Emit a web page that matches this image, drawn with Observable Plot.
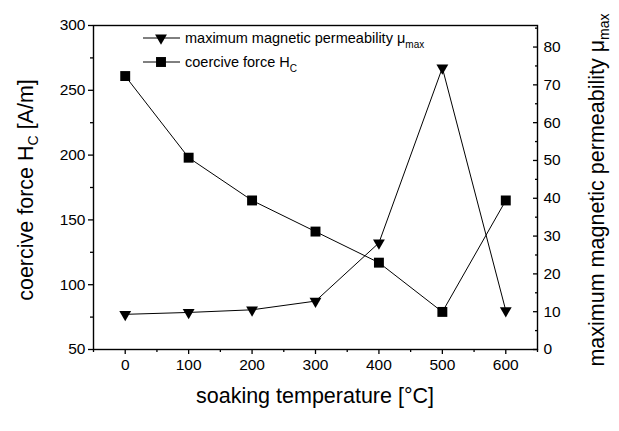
<!DOCTYPE html>
<html><head><meta charset="utf-8">
<script src="https://cdn.jsdelivr.net/npm/d3@7"></script>
<script src="https://cdn.jsdelivr.net/npm/@observablehq/plot@0.6"></script>
<style>body{margin:0;background:#fff} svg{font-family:"Liberation Sans",Arial,sans-serif}</style>
</head><body><div id="chart"></div>
<script>
// Data
const temperature = [0, 100, 200, 300, 400, 500, 600];          // soaking temperature [°C]
const coerciveForce = [261, 198, 165, 141, 117, 79, 165];       // H_C [A/m] (left axis)
const permeability = [9.3, 9.8, 10.5, 12.8, 28.2, 74.5, 10.3];  // μ_max (right axis)

const xTicks = [0, 100, 200, 300, 400, 500, 600];
const xMinor = [-50, 50, 150, 250, 350, 450, 550, 650];
const leftTicks = [50, 100, 150, 200, 250, 300];
const leftMinor = [75, 125, 175, 225, 275];
const rightTicks = [0, 10, 20, 30, 40, 50, 60, 70, 80];
const rightMinor = [5, 15, 25, 35, 45, 55, 65, 75, 85];

const leftDomain = [50, 300];
const rightDomain = [0, 85.7];
// map right-axis values into left-axis units (shared y scale)
const toLeft = m => leftDomain[0] + (m - rightDomain[0]) * (leftDomain[1] - leftDomain[0]) / (rightDomain[1] - rightDomain[0]);
const fromLeft = v => rightDomain[0] + (v - leftDomain[0]) * (rightDomain[1] - rightDomain[0]) / (leftDomain[1] - leftDomain[0]);

const hcData = temperature.map((t, i) => ({t, v: coerciveForce[i]}));
const muData = temperature.map((t, i) => ({t, v: toLeft(permeability[i])}));

const plot = Plot.plot({
  width: 619, height: 431,
  marginLeft: 93, marginRight: 82, marginTop: 25, marginBottom: 82,
  style: {fontFamily: "Liberation Sans, Arial, sans-serif", fontSize: "15.5px", color: "black", background: "white"},
  x: {domain: [-50, 650]},
  y: {domain: leftDomain},
  marks: [
    Plot.frame({stroke: "black", strokeWidth: 1.4}),
    Plot.axisX(xTicks, {tickSize: 5, tickPadding: 4, label: null, strokeWidth: 1.3}),
    Plot.axisX(xMinor, {tickSize: 3, fill: "none", label: null, strokeWidth: 1.3}),
    Plot.axisY(leftTicks, {tickSize: 5, tickPadding: 3, label: null, strokeWidth: 1.3}),
    Plot.axisY(leftMinor, {tickSize: 3, fill: "none", label: null, strokeWidth: 1.3}),
    Plot.axisY(rightTicks.map(toLeft), {anchor: "right", tickSize: 5, dx: -5, fill: "none", label: null, strokeWidth: 1.3}),
    Plot.axisY(rightMinor.map(toLeft), {anchor: "right", tickSize: 3, dx: -3, fill: "none", label: null, strokeWidth: 1.3}),
    Plot.axisY(rightTicks.map(toLeft), {anchor: "right", tickSize: 0, tickPadding: 6, label: null,
      tickFormat: v => String(Math.round(fromLeft(v)))}),
    Plot.line(hcData, {x: "t", y: "v", stroke: "black", strokeWidth: 1}),
    Plot.line(muData, {x: "t", y: "v", stroke: "black", strokeWidth: 1}),
    Plot.dot(hcData, {x: "t", y: "v", symbol: "square", r: 5.6, fill: "black", stroke: "none"}),
    Plot.dot(muData, {x: "t", y: "v", symbol: "triangle", rotate: 180, r: 4.4, fill: "black", stroke: "none"})
  ]
});
document.getElementById("chart").appendChild(plot);

const svg = d3.select(plot);
const font = "Liberation Sans, Arial, sans-serif";
// Axis titles
const lt = svg.append("text").attr("transform", "translate(33,190) rotate(-90)")
  .attr("text-anchor", "middle").attr("font-size", 21.5).attr("font-family", font).attr("fill", "black");
lt.append("tspan").text("coercive force H");
lt.append("tspan").attr("font-size", 14).attr("dy", 5).text("C");
lt.append("tspan").attr("dy", -5).text(" [A/m]");

const rt = svg.append("text").attr("transform", "translate(604,190) rotate(-90)")
  .attr("text-anchor", "middle").attr("font-size", 21.5).attr("font-family", font).attr("fill", "black");
rt.append("tspan").text("maximum magnetic permeability μ");
rt.append("tspan").attr("font-size", 14).attr("dy", 5).text("max");

svg.append("text").attr("x", 315).attr("y", 403).attr("text-anchor", "middle")
  .attr("font-size", 21.5).attr("font-family", font).attr("fill", "black").text("soaking temperature [°C]");

// Legend
const legend = [
  {label: "maximum magnetic permeability μ", sub: "max", symbol: d3.symbolTriangle, rot: 180, size: Math.PI * 4.4 * 4.4},
  {label: "coercive force H", sub: "C", symbol: d3.symbolSquare, rot: 0, size: Math.PI * 5.6 * 5.6}
];
legend.forEach((d, i) => {
  const y = 38 + i * 24;
  const g = svg.append("g").attr("transform", `translate(0,${y})`);
  g.append("line").attr("x1", 143).attr("x2", 180).attr("stroke", "black").attr("stroke-width", 1);
  g.append("path").attr("d", d3.symbol(d.symbol, d.size)()).attr("transform", `translate(161,0) rotate(${d.rot})`).attr("fill", "black");
  const t = g.append("text").attr("x", 185).attr("y", 5).attr("text-anchor", "start")
    .attr("font-size", 14.5).attr("font-family", font).attr("fill", "black");
  t.append("tspan").text(d.label);
  t.append("tspan").attr("font-size", 10).attr("dy", 5).text(d.sub);
});
</script>
</body></html>
